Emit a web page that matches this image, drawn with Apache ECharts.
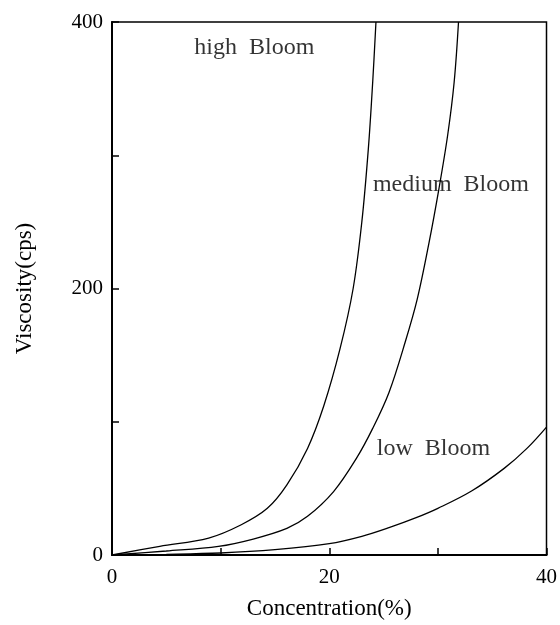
<!DOCTYPE html>
<html>
<head>
<meta charset="utf-8">
<script src="https://cdn.jsdelivr.net/npm/echarts@6/dist/echarts.min.js"></script>
<style>
  html, body { margin: 0; padding: 0; background: #fff; }
  #chart { width: 560px; height: 625px; }
</style>
</head>
<body>
<div id="chart"></div>
<script>
// concentration (%) vs viscosity (cps)
var highBloom = [[0, 0], [4.4, 6.5], [8.9, 12.7], [11.9, 22.7], [14.3, 35], [16.1, 52.6],
  [18, 80], [19.5, 112], [21, 155], [22.2, 200], [23.0, 250], [23.6, 305], [24.0, 355], [24.3, 400]];
var mediumBloom = [[0, 0], [5, 3], [9.8, 6.5], [13, 12], [16.1, 20], [18, 29], [20.4, 47.6],
  [22.5, 72.5], [24, 95], [25.5, 122], [27, 160], [28.1, 192], [29.2, 235], [30.1, 275],
  [30.9, 315], [31.5, 355], [31.9, 400]];
var lowBloom = [[0, 0], [5, 0.5], [10, 1.5], [15, 4], [20, 8.5], [23, 14], [25.5, 20.5],
  [28, 28], [30, 35], [33.1, 48], [36.1, 65], [38.2, 80], [40, 96]];

// curve names and where they sit
var curveLabels = ['high  Bloom', 'medium  Bloom', 'low  Bloom'];
var labelPos = [[13.1, 381], [31.2, 278], [29.6, 80]];

var xLabels = [0, 20, 40];   // labelled x ticks
var yLabels = [0, 200, 400]; // labelled y ticks

var font = 'Liberation Serif';

var myChart = echarts.init(document.getElementById('chart'));

function curve(name, data) {
  return {
    name: name,
    type: 'line',
    data: data,
    smooth: 0.35,
    symbol: 'none',
    lineStyle: { color: '#000', width: 1.3 }
  };
}

var option = {
  backgroundColor: '#fff',
  animation: false,
  grid: {
    left: 112, right: 7, top: 22, bottom: 68,
    show: true, borderColor: '#000', borderWidth: 1.5
  },
  xAxis: {
    type: 'value',
    min: 0, max: 40, interval: 10,
    name: 'Concentration(%)',
    nameLocation: 'middle',
    nameGap: 42,
    nameTextStyle: { fontFamily: font, fontSize: 23, color: '#000' },
    axisLine: { lineStyle: { color: '#000', width: 2 } },
    axisTick: { inside: true, length: 7, lineStyle: { color: '#000', width: 1.5 } },
    axisLabel: {
      margin: 12, fontFamily: font, fontSize: 21, color: '#000',
      formatter: function (v) { return xLabels.indexOf(v) >= 0 ? String(v) : ''; }
    },
    splitLine: { show: false }
  },
  yAxis: {
    type: 'value',
    min: 0, max: 400, interval: 100,
    name: 'Viscosity(cps)',
    nameLocation: 'middle',
    nameGap: 76,
    nameTextStyle: { fontFamily: font, fontSize: 23, color: '#000' },
    axisLine: { show: true, lineStyle: { color: '#000', width: 2 } },
    axisTick: { show: true, inside: true, length: 7, lineStyle: { color: '#000', width: 1.5 } },
    axisLabel: {
      margin: 9, fontFamily: font, fontSize: 21, color: '#000',
      formatter: function (v) { return yLabels.indexOf(v) >= 0 ? String(v) : ''; }
    },
    splitLine: { show: false }
  },
  series: [
    curve('high Bloom', highBloom),
    curve('medium Bloom', mediumBloom),
    curve('low Bloom', lowBloom),
    {
      type: 'scatter',
      symbolSize: 0,
      silent: true,
      data: labelPos.map(function (p, i) { return { value: p, name: curveLabels[i] }; }),
      label: {
        show: true, position: 'inside',
        formatter: function (p) { return p.name; },
        fontFamily: font, fontSize: 24, color: '#000'
      }
    }
  ]
};
myChart.setOption(option);
</script>
</body>
</html>
